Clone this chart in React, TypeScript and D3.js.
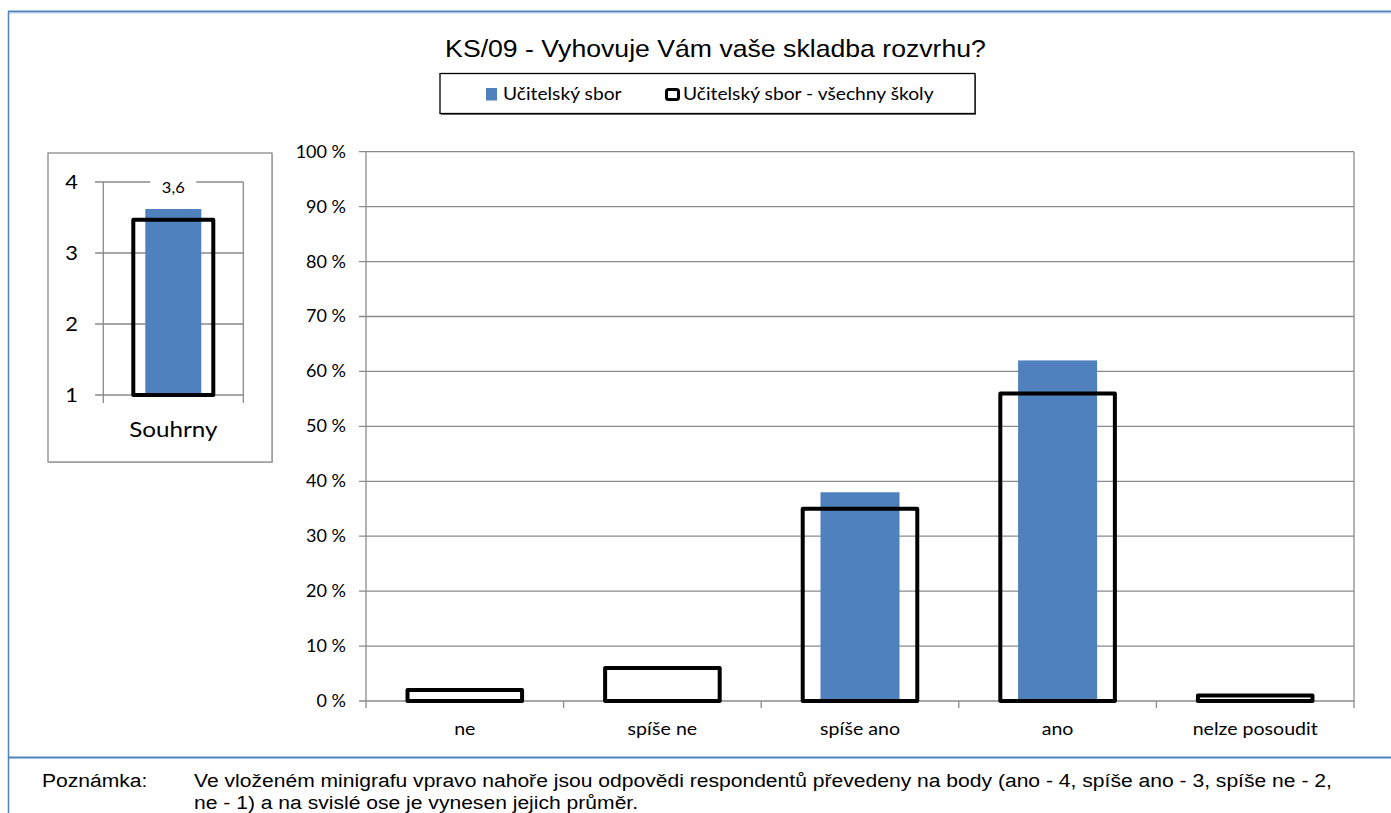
import React from "react";
import * as d3 from "d3";

const categories = ["ne", "spíše ne", "spíše ano", "ano", "nelze posoudit"];
const schoolValues = [0, 0, 38, 62, 0];
const allSchoolsValues = [2, 6, 35, 56, 1];
const yTicks = [0, 10, 20, 30, 40, 50, 60, 70, 80, 90, 100];
const miniCategory = ["Souhrny"];
const miniSchool = [3.62];
const miniAll = [3.47];
const miniTicks = [1, 2, 3, 4];
const seriesNames = ["Učitelský sbor", "Učitelský sbor - všechny školy"];
const title = "KS/09 - Vyhovuje Vám vaše skladba rozvrhu?";
const noteLabel = "Poznámka:";
const noteLines = [
  "Ve vloženém minigrafu vpravo nahoře jsou odpovědi respondentů převedeny na body (ano - 4, spíše ano - 3, spíše ne - 2,",
  "ne - 1) a na svislé ose je vynesen jejich průměr.",
];

const BLUE = "#4F81BD";
const GRID = "#8a8a8a";
const FONT = "Lato, 'Open Sans', sans-serif";
const ARIAL = "'Liberation Sans', Arial, sans-serif";

type TProps = {
  x: number;
  y: number;
  size: number;
  family?: string;
  anchor?: "start" | "middle" | "end";
  sx?: number;
  children: React.ReactNode;
};

function T({ x, y, size, family = FONT, anchor = "start", sx = 1.1, children }: TProps) {
  return (
    <text
      transform={`translate(${x},${y}) scale(${sx},1)`}
      textAnchor={anchor}
      fontFamily={family}
      fontSize={size}
      fill="#000"
    >
      {children}
    </text>
  );
}

export default function App() {
  // main chart
  const x = d3.scaleBand().domain(categories).range([366, 1354]);
  const y = d3.scaleLinear().domain([0, 100]).range([701, 151.7]);
  const bw = x.bandwidth();
  const blueW = bw * 0.4;
  const outW = bw * 0.6 - 4;

  // mini chart
  const mx = d3.scaleBand().domain(miniCategory).range([103.3, 243.3]);
  const my = d3.scaleLinear().domain([1, 4]).range([395, 182]);
  const mbw = mx.bandwidth();

  return (
    <svg
      width={1391}
      height={813}
      style={{ position: "absolute", left: 0, top: 0, background: "#fff" }}
    >
      {/* frame */}
      <line x1={8} x2={1391} y1={11.5} y2={11.5} stroke={BLUE} strokeWidth={2} />
      <line x1={8} x2={1391} y1={13} y2={13} stroke="#b9cde5" strokeWidth={1} />
      <line x1={8.5} x2={8.5} y1={11} y2={813} stroke={BLUE} strokeWidth={1.5} />
      <line x1={8} x2={1391} y1={757.5} y2={757.5} stroke={BLUE} strokeWidth={2} />

      {/* title */}
      <T x={715.5} y={56.5} size={24} family={ARIAL} anchor="middle" sx={1.11}>
        {title}
      </T>

      {/* legend */}
      <rect x={441} y={75} width={535} height={40} fill="#000" opacity={0.55} />
      <rect x={440} y={73.5} width={535} height={40} fill="#fff" stroke="#000" strokeWidth={1.3} />
      <rect x={486} y={88} width={11} height={12.5} fill={BLUE} />
      <T x={503} y={100} size={17.5}>
        {seriesNames[0]}
      </T>
      <rect x={666.5} y={89.5} width={12} height={10} fill="#fff" stroke="#000" strokeWidth={3} rx={2} />
      <T x={683} y={100} size={17.5}>
        {seriesNames[1]}
      </T>

      {/* mini chart box */}
      <rect x={49} y={154} width={224} height={309} fill="#9a9a9a" opacity={0.5} />
      <rect x={48} y={153} width={224} height={309} fill="#fff" stroke={GRID} strokeWidth={1.3} />
      {miniTicks.map((t) => (
        <g key={t}>
          <line x1={95} x2={243.3} y1={my(t)} y2={my(t)} stroke={GRID} strokeWidth={1.3} />
          <T x={78} y={my(t) + 7} size={19} anchor="end" sx={1.15}>
            {t}
          </T>
        </g>
      ))}
      <line x1={103.3} x2={103.3} y1={182} y2={403} stroke={GRID} strokeWidth={1.3} />
      <line x1={243.3} x2={243.3} y1={182} y2={403} stroke={GRID} strokeWidth={1.3} />
      {miniCategory.map((c, i) => {
        const cx = (mx(c) as number) + mbw / 2;
        const bw2 = mbw * 0.4;
        const ow = mbw * 0.6 - 4;
        return (
          <g key={c}>
            <rect x={cx - bw2 / 2} y={my(miniSchool[i])} width={bw2} height={my(1) - my(miniSchool[i])} fill={BLUE} />
            <rect
              x={cx - ow / 2}
              y={my(miniAll[i])}
              width={ow}
              height={my(1) - my(miniAll[i])}
              fill="none"
              stroke="#000"
              strokeWidth={4}
              strokeLinejoin="round"
            />
            <rect x={cx - 23} y={176} width={46} height={20} fill="#fff" />
            <T x={cx} y={193} size={15} anchor="middle">
              {d3.format(".1f")(miniSchool[i]).replace(".", ",")}
            </T>
            <T x={cx} y={437} size={22} anchor="middle">
              {c}
            </T>
          </g>
        );
      })}

      {/* main chart */}
      {yTicks.map((t) => (
        <g key={t}>
          <line x1={359} x2={1354} y1={y(t)} y2={y(t)} stroke={GRID} strokeWidth={1.3} />
          <T x={346} y={y(t) + 6} size={17} anchor="end" sx={1.06}>
            {`${t} %`}
          </T>
        </g>
      ))}
      <line x1={366} x2={366} y1={151.7} y2={708} stroke={GRID} strokeWidth={1.3} />
      {categories.map((c, i) => (
        <line
          key={"t" + c}
          x1={(x(c) as number) + bw}
          x2={(x(c) as number) + bw}
          y1={i === categories.length - 1 ? 151.7 : 701}
          y2={708}
          stroke={GRID}
          strokeWidth={1.3}
        />
      ))}
      {categories.map((c, i) => {
        const cx = (x(c) as number) + bw / 2;
        return (
          <g key={c}>
            {schoolValues[i] > 0 && (
              <rect x={cx - blueW / 2} y={y(schoolValues[i])} width={blueW} height={y(0) - y(schoolValues[i])} fill={BLUE} />
            )}
            <rect
              x={cx - outW / 2}
              y={y(allSchoolsValues[i])}
              width={outW}
              height={y(0) - y(allSchoolsValues[i])}
              fill="none"
              stroke="#000"
              strokeWidth={4}
              strokeLinejoin="round"
            />
            <T x={cx} y={735} size={17.8} anchor="middle">
              {c}
            </T>
          </g>
        );
      })}

      {/* note */}
      <T x={42} y={787} size={19} family={ARIAL} sx={1.11}>
        {noteLabel}
      </T>
      {noteLines.map((l, i) => (
        <T key={i} x={194} y={787 + i * 22} size={19} family={ARIAL} sx={1.11}>
          {l}
        </T>
      ))}
    </svg>
  );
}
